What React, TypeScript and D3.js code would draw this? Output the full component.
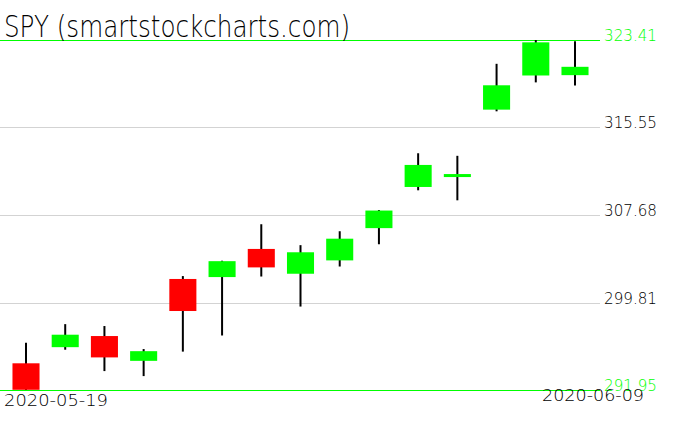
import * as d3 from 'd3';
import { useEffect, useRef } from 'react';

const dates = [
    '2020-05-19', '2020-05-20', '2020-05-21', '2020-05-22', '2020-05-26',
    '2020-05-27', '2020-05-28', '2020-05-29', '2020-06-01', '2020-06-02',
    '2020-06-03', '2020-06-04', '2020-06-05', '2020-06-08', '2020-06-09',
];
const opens = [294.35, 295.8, 296.8, 294.57, 301.93, 302.1, 304.63, 302.4, 303.6, 306.5, 310.2, 311.11, 317.15, 320.22, 320.25];
const highs = [296.2, 297.87, 297.7, 295.63, 302.19, 303.57, 306.85, 304.97, 306.22, 308.13, 313.23, 313.0, 321.27, 323.41, 323.3];
const lows = [291.95, 295.57, 293.65, 293.2, 295.4, 296.85, 302.15, 299.45, 303.05, 305.05, 309.9, 309.0, 317.0, 319.6, 319.33];
const closes = [291.97, 296.92, 294.88, 295.44, 299.05, 303.53, 302.97, 304.33, 305.55, 308.08, 312.18, 311.36, 319.34, 323.2, 321.0];
const yTicks = [323.41, 315.55, 307.68, 299.81, 291.95];

const W = 676;
const H = 431;
const FONT = "'DejaVu Sans', sans-serif";

export default function App() {
    const svgRef = useRef<SVGSVGElement>(null);
    useEffect(() => {
        if (!svgRef.current) return;
        const svg = d3.select(svgRef.current);
        svg.selectAll('*').remove();

        const y = d3.scaleLinear().domain([291.95, 323.41]).range([390, 40]);
        const x = d3.scalePoint<string>().domain(dates).range([26, 575]);
        const bodyW = x.step() * 0.69;

        // gridlines + price labels
        yTicks.forEach((t, i) => {
            const edge = i === 0 || i === yTicks.length - 1;
            svg.append('line')
                .attr('x1', 0)
                .attr('x2', 600)
                .attr('y1', Math.round(y(t)) + 0.5)
                .attr('y2', Math.round(y(t)) + 0.5)
                .attr('stroke', edge ? '#00ff00' : '#d3d3d3')
                .attr('stroke-width', 1);
            svg.append('text')
                .attr('x', 604)
                .attr('y', y(t) + 1)
                .attr('font-family', FONT)
                .attr('font-weight', 200)
                .attr('font-size', 15)
                .attr('textLength', 53)
                .attr('lengthAdjust', 'spacingAndGlyphs')
                .attr('fill', edge ? '#00ff00' : '#000')
                .text(t.toFixed(2));
        });

        const g = svg.append('g');
        dates.forEach((d, i) => {
            const cx = x(d) as number;
            const up = closes[i] >= opens[i];
            g.append('line')
                .attr('x1', cx)
                .attr('x2', cx)
                .attr('y1', y(highs[i]))
                .attr('y2', y(lows[i]))
                .attr('stroke', '#000')
                .attr('stroke-width', 2);
            const top = y(Math.max(opens[i], closes[i]));
            const bot = y(Math.min(opens[i], closes[i]));
            g.append('rect')
                .attr('x', cx - bodyW / 2)
                .attr('y', top)
                .attr('width', bodyW)
                .attr('height', Math.max(3, bot - top))
                .attr('fill', up ? '#00ff00' : '#ff0000');
        });

        svg.append('text')
            .attr('x', 4)
            .attr('y', 37)
            .attr('font-family', FONT)
            .attr('font-weight', 200)
            .attr('font-size', 30)
            .attr('textLength', 346)
            .attr('lengthAdjust', 'spacingAndGlyphs')
            .attr('fill', '#000')
            .text('SPY (smartstockcharts.com)');

        svg.append('text')
            .attr('x', 4)
            .attr('y', 406)
            .attr('font-family', FONT)
            .attr('font-weight', 200)
            .attr('font-size', 15)
            .attr('textLength', 104)
            .attr('lengthAdjust', 'spacingAndGlyphs')
            .text(dates[0]);

        svg.append('text')
            .attr('x', 644)
            .attr('y', 401)
            .attr('text-anchor', 'end')
            .attr('font-family', FONT)
            .attr('font-weight', 200)
            .attr('font-size', 15)
            .attr('textLength', 102)
            .attr('lengthAdjust', 'spacingAndGlyphs')
            .text(dates[dates.length - 1]);
    }, []);
    return (
        <svg
            ref={svgRef}
            width={W}
            height={H}
            style={{ position: 'absolute', left: 0, top: 0, background: '#fff' }}
        />
    );
}
